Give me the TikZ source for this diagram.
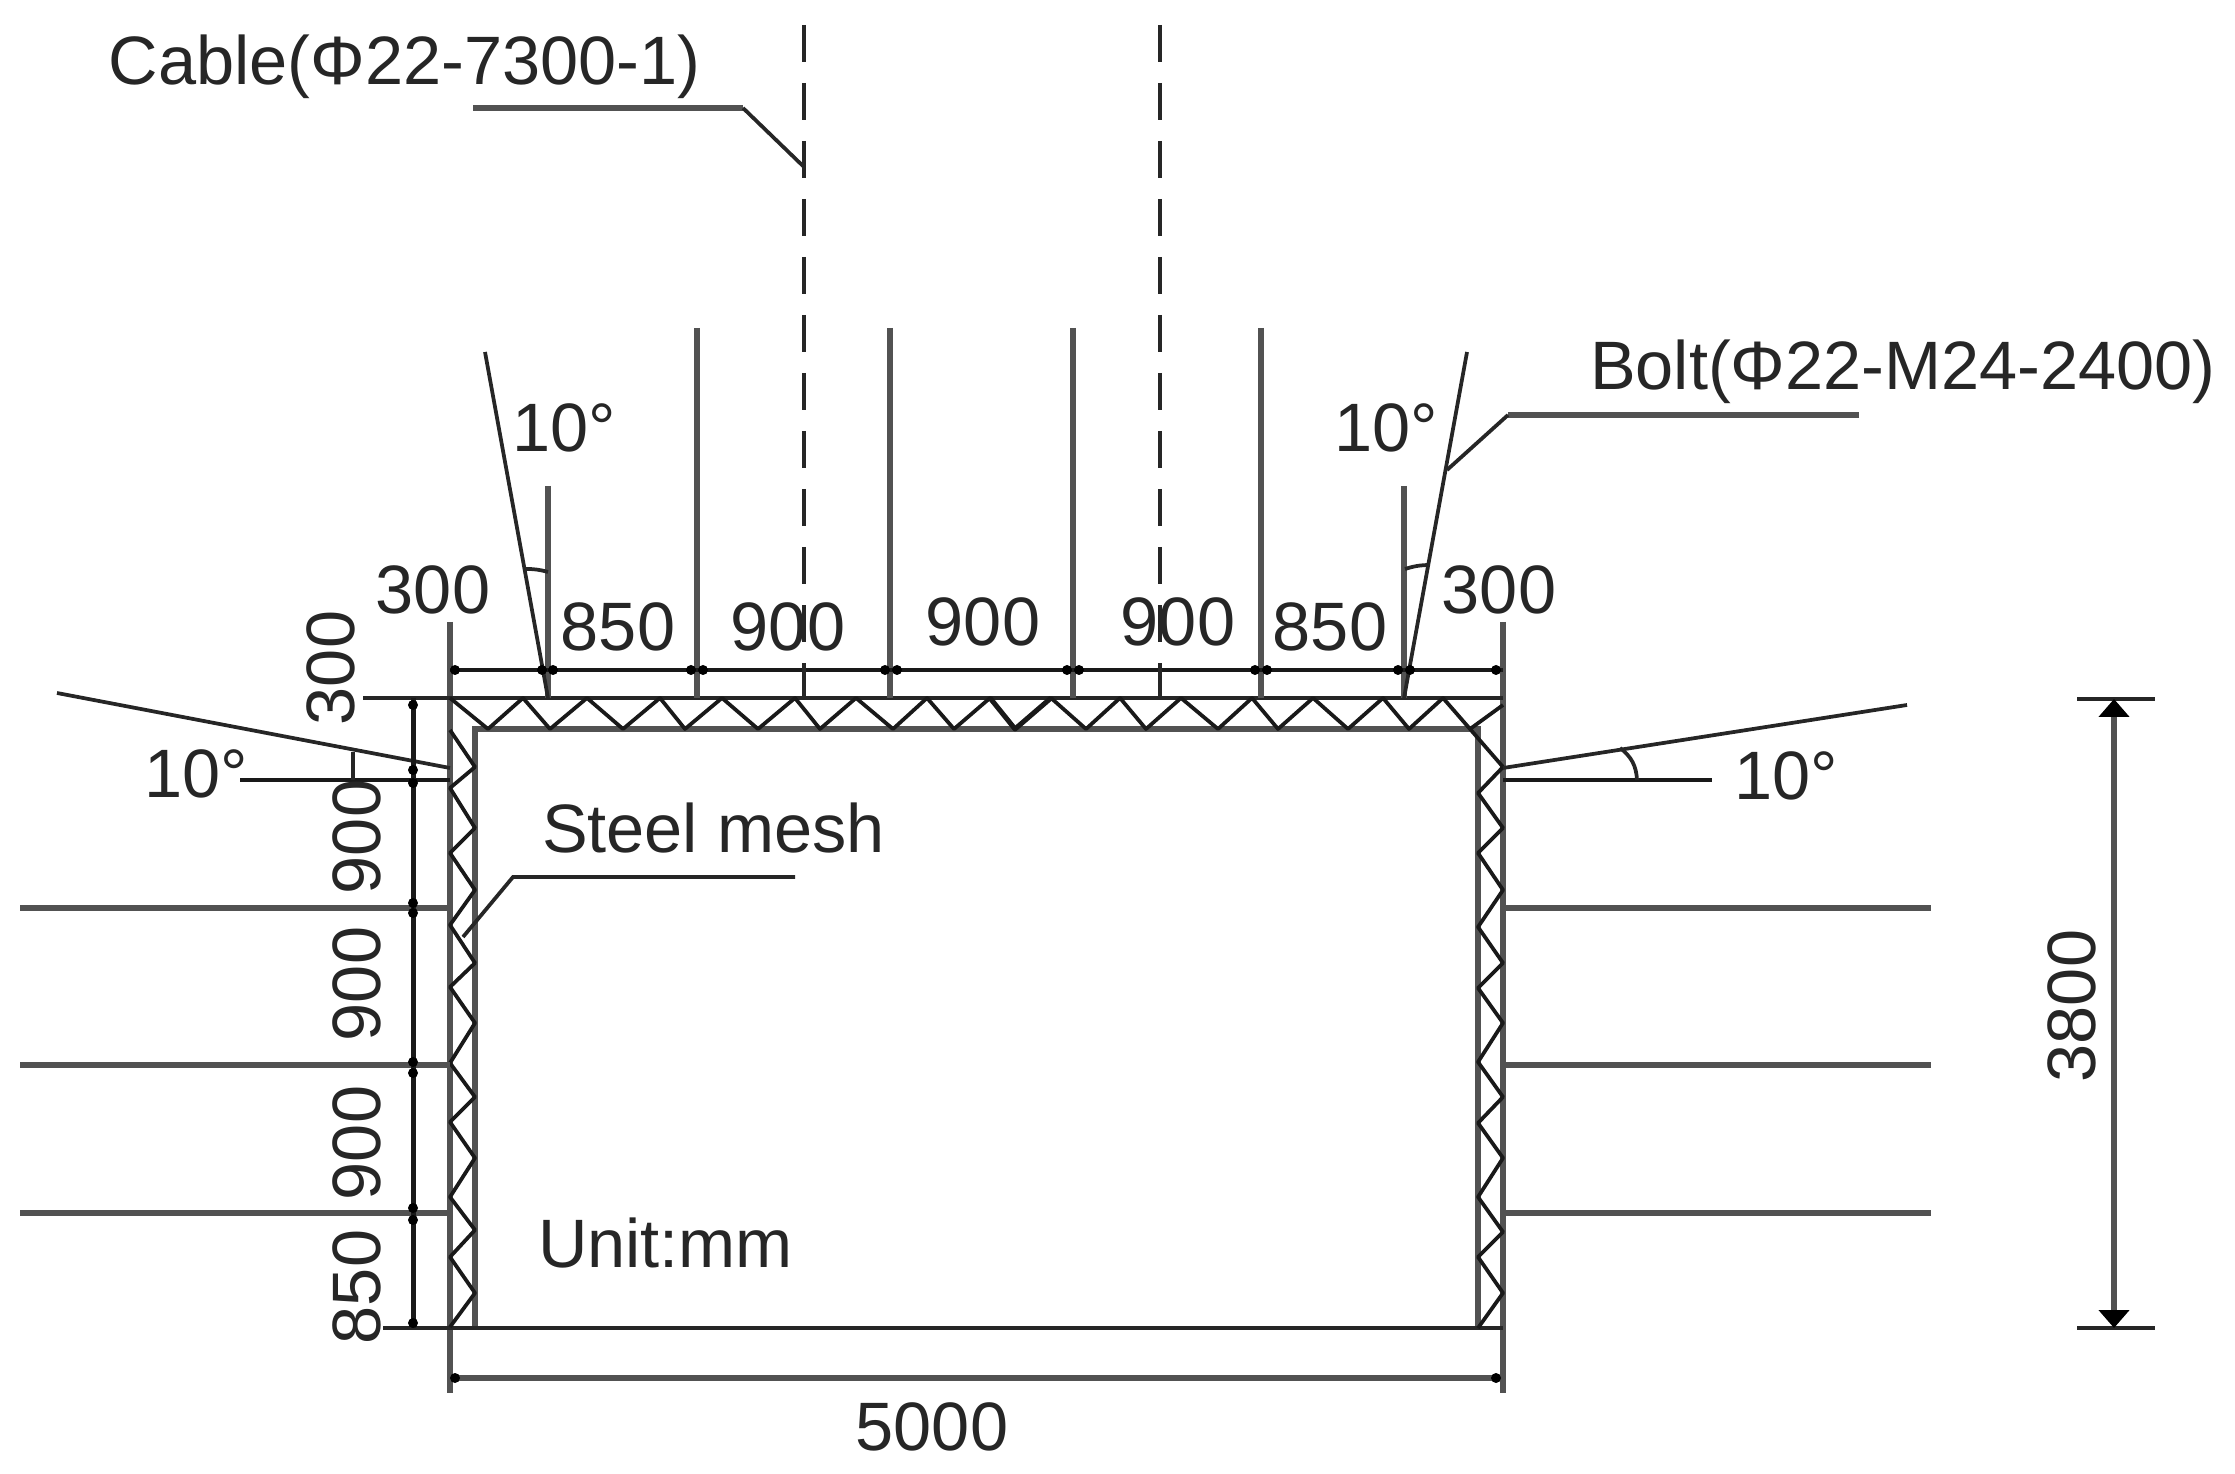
\documentclass[tikz,border=0pt]{standalone}
\usepackage{fontspec}
\setmainfont{Liberation Sans}
\usetikzlibrary{arrows.meta}
\tikzset{
  wall/.style={line width=1.15pt,black!68},
  thinline/.style={line width=.75pt,black!85},
  meshline/.style={line width=.75pt,black!90,line join=round},
  dimline/.style={line width=.9pt,black!90},
  lbl/.style={inner sep=0pt,font=\fontsize{13.7}{16}\selectfont,text=black!85},
}
\begin{document}
\begin{tikzpicture}[x=.2pt,y=-.2pt]
  \useasboundingbox (0,0) rectangle (2235,1474);

  % lining
  \draw[wall] (450,622)--(450,1393);
  \draw[wall] (1503,622)--(1503,1393);
  \draw[wall] (475,1328)--(475,729)--(1478,729)--(1478,1328);
  \draw[thinline] (363,698)--(1503,698);
  \draw[thinline] (383,1328)--(1503,1328);

  % steel mesh
  \draw[meshline] (450,698) \foreach \a/\b in {488/523,550/587,623/660,685/722,758/795,820/856,893/927,954/990,1015/1051,1086/1120,1146/1181,1218/1252,1278/1313,1348/1383,1409/1443}{--(\a,729)--(\b,698)}--(1470,729)--(1503,767);
  \draw[meshline,line width=1pt] (990,698)--(1015,729)--(1051,698);
  \draw[meshline] (1470,729)--(1503,705);
  \draw[meshline] (450,730) \foreach \a/\b in {767/788,828/853,890/925,963/987,1023/1063,1097/1122,1158/1197,1230/1257,1293/1327}{--(475,\a)--(450,\b)};
  \draw[meshline] (1503,767) \foreach \a/\b in {793/828,853/890,927/963,988/1023,1062/1097,1123/1158,1197/1232,1257/1293}{--(1478,\a)--(1503,\b)}--(1478,1328);

  % bolts, cables
  \foreach \x in {697,890,1073,1261}{
    \draw[wall] (\x,328)--(\x,698);
  }
  \foreach \x in {804,1160}{
    \draw[thinline,dash pattern=on 7.4pt off 4.2pt] (\x,25)--(\x,698);
  }
  \foreach \x in {548,1404}{
    \draw[wall] (\x,486)--(\x,698);
  }
  \draw[thinline] (485,352)--(548,698);
  \draw[thinline] (1467,352)--(1404,698);
  \draw[thinline] (57,693)--(450,768);
  \draw[thinline] (1907,705)--(1503,768);
  \draw[dimline] (240,780)--(450,780);
  \draw[dimline] (1503,780)--(1712,780);
  \foreach \y in {908,1065,1213}{
    \draw[wall] (20,\y)--(450,\y);
    \draw[wall] (1503,\y)--(1931,\y);
  }

  % angle marks
  \draw[thinline] (548,572) to[bend right=8] (525,569);
  \draw[thinline] (1405,569) to[bend left=8] (1429,565);
  \draw[thinline] (353,752)--(353,780);
  \draw[thinline] (1620,748) to[bend left=25] (1637,780);

  % dimensions
  \draw[dimline] (450,670)--(1503,670);
  \draw[wall] (450,1378)--(1503,1378);
  \draw[dimline,line width=1pt] (413,698)--(413,1328);
  \foreach \x in {455,542,553,691,703,885,897,1067,1079,1255,1267,1398,1410,1496}{
    \fill (\x,670) circle[radius=1pt];
  }
  \foreach \x in {804,1160}{
    \draw[thinline] (\x,664)--(\x,698);
  }
  \foreach \y in {705,770,783,903,913,1062,1073,1208,1220,1323}{
    \fill (413,\y) circle[radius=1pt];
  }
  \foreach \x in {455,1496}{
    \fill (\x,1378) circle[radius=1pt];
  }
  \draw[thinline] (2077,699)--(2155,699);
  \draw[thinline] (2077,1328)--(2155,1328);
  \draw[wall,{Triangle[length=3.6pt,width=6pt,color=black]}-{Triangle[length=3.6pt,width=6pt,color=black]}] (2114,699)--(2114,1328);

  % leaders
  \draw[wall] (473,108)--(743,108);
  \draw[thinline] (743,108)--(804,167);
  \draw[wall] (1859,415)--(1508,415);
  \draw[thinline] (1508,415)--(1447,470);
  \draw[thinline] (795,877)--(513,877)--(463,937);

  % labels
  \node[lbl,anchor=base west] (cable) at (108,85) {Cable(Φ22-7300-1)};
  \node[lbl,anchor=base west] (bolt) at (1589,390) {Bolt(Φ22-M24-2400)};
  \node[lbl,anchor=base west] (mesh) at (541,853) {Steel mesh};
  \node[lbl,anchor=base west] (unit) at (537,1267) {Unit:mm};
  \node[lbl,anchor=base west] (angtl) at (511,452) {10°};
  \node[lbl,anchor=base west] (angtr) at (1333,452) {10°};
  \node[lbl,anchor=base west] (angl) at (143,798) {10°};
  \node[lbl,anchor=base west] (angr) at (1733,800) {10°};
  \foreach \n/\x/\y/\t in {a/433/590/300,b/618/627/850,c/788/627/900,d/983/622/900,e/1178/622/900,f/1330/627/850,g/1499/590/300}{
    \node[lbl] (top\n) at (\x,\y) {\t};
  }
  \foreach \n/\x/\y/\t in {a/331/668/300,b/357/837/900,c/357/984/900,d/357/1143/900,e/357/1287/850,f/2072/1006/3800}{
    \node[lbl,rotate=90] (side\n) at (\x,\y) {\t};
  }
  \node[lbl] (width) at (932,1427) {5000};
\end{tikzpicture}
\end{document}
